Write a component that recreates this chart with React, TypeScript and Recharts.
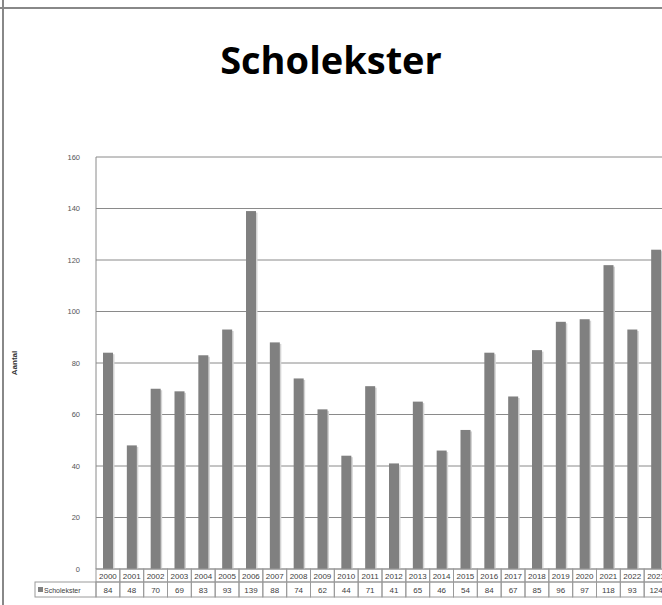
import { BarChart, Bar, XAxis, YAxis, CartesianGrid } from 'recharts';

const years = [
  '2000', '2001', '2002', '2003', '2004', '2005', '2006', '2007', '2008', '2009', '2010', '2011',
  '2012', '2013', '2014', '2015', '2016', '2017', '2018', '2019', '2020', '2021', '2022', '2023',
];
const scholekster = [
  84, 48, 70, 69, 83, 93, 139, 88, 74, 62, 44, 71,
  41, 65, 46, 54, 84, 67, 85, 96, 97, 118, 93, 124,
];
const yTicks = [0, 20, 40, 60, 80, 100, 120, 140, 160];

const chartData = years.map((year, i) => ({ year, Scholekster: scholekster[i] }));

// layout
const CHART_W = 680;
const CHART_H = 605;
const Y_AXIS_W = 96;
const MARGIN = { top: 157, right: 12, left: 0, bottom: 8 };
const PLOT_W = CHART_W - Y_AXIS_W - MARGIN.left - MARGIN.right;
const CELL_W = PLOT_W / years.length;
const ROW1_H = 13;
const ROW2_H = 15;
const BORDER = '#9a9a9a';
const TEXT = '#404040';
const FONT = '"Liberation Sans", Arial, sans-serif';

function TableTick(props: any) {
  const { x, y, payload } = props;
  const idx = payload.index;
  const left = x - CELL_W / 2;
  return (
    <g>
      <rect x={left} y={y} width={CELL_W} height={ROW1_H} fill="none" stroke={BORDER} strokeWidth={1} />
      <text x={x} y={y + 10} textAnchor="middle" fontSize={8} fill={TEXT} fontFamily={FONT}>
        {payload.value}
      </text>
      <rect x={left} y={y + ROW1_H} width={CELL_W} height={ROW2_H} fill="none" stroke={BORDER} strokeWidth={1} />
      <text x={x} y={y + ROW1_H + 10.5} textAnchor="middle" fontSize={8} fill={TEXT} fontFamily={FONT}>
        {scholekster[idx]}
      </text>
      {idx === 0 && (
        <g>
          <rect x={left - 61} y={y + ROW1_H} width={61} height={ROW2_H} fill="none" stroke={BORDER} strokeWidth={1} />
          <rect x={left - 58} y={y + ROW1_H + 5} width={5} height={5} fill="#808080" />
          <text x={left - 52} y={y + ROW1_H + 10.5} fontSize={7} fill={TEXT} fontFamily={FONT}>
            Scholekster
          </text>
        </g>
      )}
    </g>
  );
}

function ShadowBar(props: any) {
  const { x, y, width, height, fill } = props;
  if (!height || height <= 0) return null;
  return (
    <g>
      <rect x={x + 1.5} y={y + 1.5} width={width} height={height - 1.5} fill="#d4d4d4" />
      <rect x={x} y={y} width={width} height={height} fill={fill} />
    </g>
  );
}

function AxisTitle(props: any) {
  const { viewBox } = props;
  const cx = 15;
  const cy = viewBox.y + viewBox.height / 2;
  return (
    <text
      x={cx}
      y={cy}
      transform={`rotate(-90 ${cx} ${cy})`}
      textAnchor="middle"
      dominantBaseline="middle"
      fontSize={8}
      fontWeight="bold"
      fill="#333"
      fontFamily={FONT}
    >
      Aantal
    </text>
  );
}

export default function App() {
  return (
    <div
      style={{
        position: 'fixed',
        left: 0,
        top: 0,
        width: 662,
        height: 605,
        overflow: 'hidden',
        background: '#fff',
      }}
    >
      <div style={{ position: 'absolute', left: 2, top: 0, width: 2, height: 605, background: '#888' }} />
      <div style={{ position: 'absolute', left: 0, top: 7, width: 662, height: 2, background: '#888' }} />
      <div
        style={{
          position: 'absolute',
          left: 0,
          top: 34,
          width: 662,
          textAlign: 'center',
          fontFamily: '"Open Sans", sans-serif',
          fontWeight: 'bold',
          fontSize: 38,
          color: '#000',
          lineHeight: '50px',
        }}
      >
        Scholekster
      </div>
      <div style={{ position: 'absolute', left: 0, top: 0 }}>
        <BarChart width={CHART_W} height={CHART_H} data={chartData} margin={MARGIN} barSize={10}>
          <CartesianGrid vertical={false} stroke="#8a8a8a" strokeWidth={1} />
          <XAxis
            dataKey="year"
            height={ROW1_H + ROW2_H}
            axisLine={false}
            tickLine={false}
            tickSize={0}
            tickMargin={0}
            interval={0}
            tick={<TableTick />}
          />
          <YAxis
            width={Y_AXIS_W}
            domain={[0, 160]}
            ticks={yTicks}
            interval={0}
            axisLine={{ stroke: '#8a8a8a' }}
            tickLine={false}
            tickMargin={10}
            tick={{ fontSize: 7.5, fill: '#555', fontFamily: FONT }}
            label={<AxisTitle />}
          />
          <Bar dataKey="Scholekster" fill="#808080" shape={<ShadowBar />} isAnimationActive={false} />
        </BarChart>
      </div>
    </div>
  );
}
